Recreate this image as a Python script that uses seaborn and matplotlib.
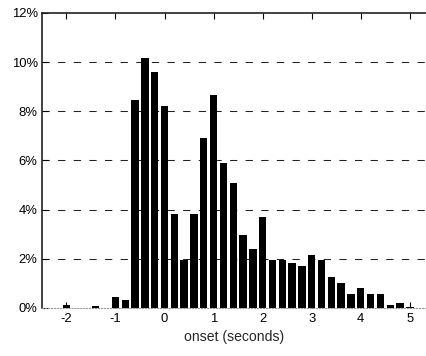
import numpy as np
import pandas as pd
import matplotlib
matplotlib.use('Agg')
import matplotlib.pyplot as plt
from matplotlib.ticker import FuncFormatter
import seaborn as sns

# bin centres (seconds), 0.2 s bins
onset = [-2.4, -2.2, -2.0, -1.8, -1.6, -1.4, -1.2, -1.0, -0.8, -0.6, -0.4, -0.2,
         0.0, 0.2, 0.4, 0.6, 0.8, 1.0, 1.2, 1.4, 1.6, 1.8, 2.0, 2.2, 2.4, 2.6,
         2.8, 3.0, 3.2, 3.4, 3.6, 3.8, 4.0, 4.2, 4.4, 4.6, 4.8, 5.0, 5.2]
# percent of trials in each bin
percent = [0.0, 0.0, 0.1, 0.0, 0.0, 0.07, 0.0, 0.43, 0.32, 8.45, 10.17, 9.6,
           8.22, 3.8, 1.96, 3.8, 6.92, 8.67, 5.9, 5.1, 2.97, 2.4, 3.68, 1.96, 1.96, 1.81,
           1.72, 2.15, 1.96, 1.25, 1.0, 0.56, 0.8, 0.56, 0.56, 0.1, 0.2, 0.02, 0.0]
yticks = [0, 2, 4, 6, 8, 10, 12]
xticks = [-2, -1, 0, 1, 2, 3, 4, 5]

df = pd.DataFrame({'onset': np.round(onset, 1), 'percent': percent})

sns.set_style('white')
plt.rcParams['font.family'] = ['Liberation Sans', 'DejaVu Sans']

fig = plt.figure(figsize=(4.27, 3.56), dpi=100)
ax = fig.add_axes([0.098, 0.135, 0.902, 0.829])

sns.barplot(data=df, x='onset', y='percent', native_scale=True, color='black',
            saturation=1, width=0.75, errorbar=None, linewidth=0, ax=ax)

# dashed horizontal grid
for y in yticks[1:-1]:
    ax.axhline(y, color='#222222', lw=0.75, ls=(0, (7, 8)), zorder=0)

ax.set_xlim(-2.5, 5.35)
ax.set_ylim(0, 12)
ax.set_xticks(xticks)
ax.set_yticks(yticks)
ax.yaxis.set_major_formatter(FuncFormatter(lambda v, p: '%d%%' % v))
ax.set_xticklabels([str(x) for x in xticks])
ax.tick_params(axis='both', direction='in', length=4, width=0.8, labelsize=9.4,
               colors='black', pad=3)
ax.tick_params(axis='x', top=True, bottom=True, pad=4)
ax.tick_params(axis='y', left=True, right=False)

ax.set_xlabel('onset (seconds)', fontsize=10.1, labelpad=3)
ax.set_ylabel('')

for s in ['left', 'top']:
    ax.spines[s].set_color('#222222')
    ax.spines[s].set_linewidth(1.2)
ax.spines['right'].set_visible(False)
ax.spines['bottom'].set_color('#999999')
ax.spines['bottom'].set_linewidth(0.8)
ax.spines['bottom'].set_linestyle(':')

fig.savefig('out.png', dpi=100)
